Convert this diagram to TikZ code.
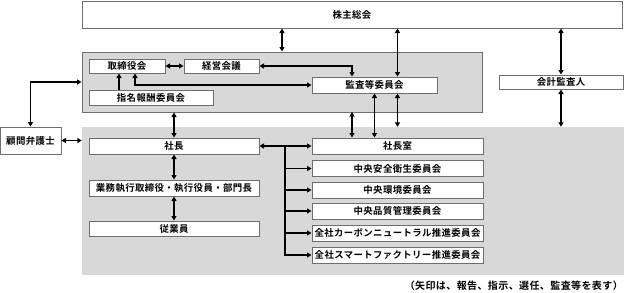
\documentclass[tikz,border=0pt]{standalone}
\usepackage{fontspec}
\setmainfont{Noto Sans CJK JP}[BoldFont={Noto Sans CJK JP Bold}, LetterSpace=4]
\usetikzlibrary{arrows.meta}
\definecolor{panel}{HTML}{D8D8D8}
\definecolor{edge}{HTML}{6E6E6E}
\tikzset{
    box/.style={draw=edge, fill=white, line width=1pt, inner sep=0pt, font=\fontsize{9.4}{11}\selectfont\bfseries},
    panelbox/.style={fill=panel, inner sep=0pt},
    link/.style={line width=1.3pt, -{Triangle[length=4.5pt,width=5pt]}},
    both/.style={line width=1.3pt, {Triangle[length=4.5pt,width=5pt]}-{Triangle[length=4.5pt,width=5pt]}},
}
\begin{document}
\begin{tikzpicture}[x=1pt,y=-1pt]
    \useasboundingbox (0,0) rectangle (624,292);
    % panels
    \node[panelbox, minimum width=542pt, minimum height=148pt] (exec) at (353,201) {};
    \node[panelbox, draw=edge, line width=1pt, minimum width=400pt, minimum height=60pt] (board) at (282,82) {};
    % boxes
    \node[box, minimum width=540pt, minimum height=27pt] (meeting) at (352,14.5) {株主総会};
    \node[box, minimum width=76pt, minimum height=14pt] (directors) at (127,66) {取締役会};
    \node[box, minimum width=75pt, minimum height=14pt] (mgmt) at (221.5,66) {経営会議};
    \node[box, minimum width=124pt, minimum height=15pt] (nomination) at (151,97.5) {指名報酬委員会};
    \node[box, minimum width=125pt, minimum height=16pt] (audit) at (374.5,85) {監査等委員会};
    \node[box, minimum width=124pt, minimum height=14pt] (auditor) at (561,82) {会計監査人};
    \node[box, minimum width=61pt, minimum height=27pt] (lawyer) at (30.5,140.5) {顧問弁護士};
    \node[box, minimum width=170pt, minimum height=16pt] (president) at (174,146) {社長};
    \node[box, minimum width=170pt, minimum height=16pt] (officers) at (174,188) {業務執行取締役・執行役員・部門長};
    \node[box, minimum width=170pt, minimum height=15pt] (staff) at (174,228.5) {従業員};
    \node[box, minimum width=171pt, minimum height=16pt] (office) at (397.5,146) {社長室};
    \node[box, minimum width=171pt, minimum height=16pt] (safety) at (397.5,168.5) {中央安全衛生委員会};
    \node[box, minimum width=171pt, minimum height=16pt] (environ) at (397.5,190) {中央環境委員会};
    \node[box, minimum width=171pt, minimum height=16pt] (quality) at (397.5,211) {中央品質管理委員会};
    \node[box, minimum width=171pt, minimum height=16pt] (carbon) at (397.5,233) {全社カーボンニュートラル推進委員会};
    \node[box, minimum width=171pt, minimum height=16pt] (factory) at (397.5,255) {全社スマートファクトリー推進委員会};
    \node[anchor=east, inner sep=0pt, font=\fontsize{10}{11}\selectfont\bfseries] (note) at (623,286) {（矢印は、報告、指示、選任、監査等を表す）};
    \coordinate (kx) at (352,112);
    \coordinate (trunk) at (285,146);
    % connectors
    \draw[both] (meeting.south -| board.north) -- (board.north);
    \draw[both] (meeting.south -| office) -- (audit.north -| office);
    \draw[both] (meeting.south -| auditor) -- (auditor.north);
    \draw[both] (auditor.south) -- (auditor.south |- exec.north);
    \draw[both] (directors.east) -- (mgmt.west);
    \draw[both] (mgmt.east) -- (mgmt.east -| kx) -- (audit.north -| kx);
    \draw[both] ([xshift=8pt]directors.south) |- (audit.west);
    \draw[link] ([xshift=-8pt]directors.south |- nomination.north) -- ([xshift=-8pt]directors.south);
    \draw[both] (lawyer.north) |- (board.west);
    \draw[both] (lawyer.east) -- (lawyer.east -| exec.west);
    \draw[both] (board.south -| president) -- (president.north);
    \draw[both] (kx) -- (office.north -| kx);
    \draw[both] (audit.south) -- (office.north -| audit);
    \draw[both] (audit.south -| office) -- (exec.north -| office);
    \draw[both] (president.south) -- (officers.north);
    \draw[both] (officers.south) -- (staff.north);
    \draw[both] (president.east) -- (office.west);
    \foreach \unit in {safety,environ,quality,carbon,factory}
        \draw[link] (trunk) |- (\unit.west);
\end{tikzpicture}
\end{document}
